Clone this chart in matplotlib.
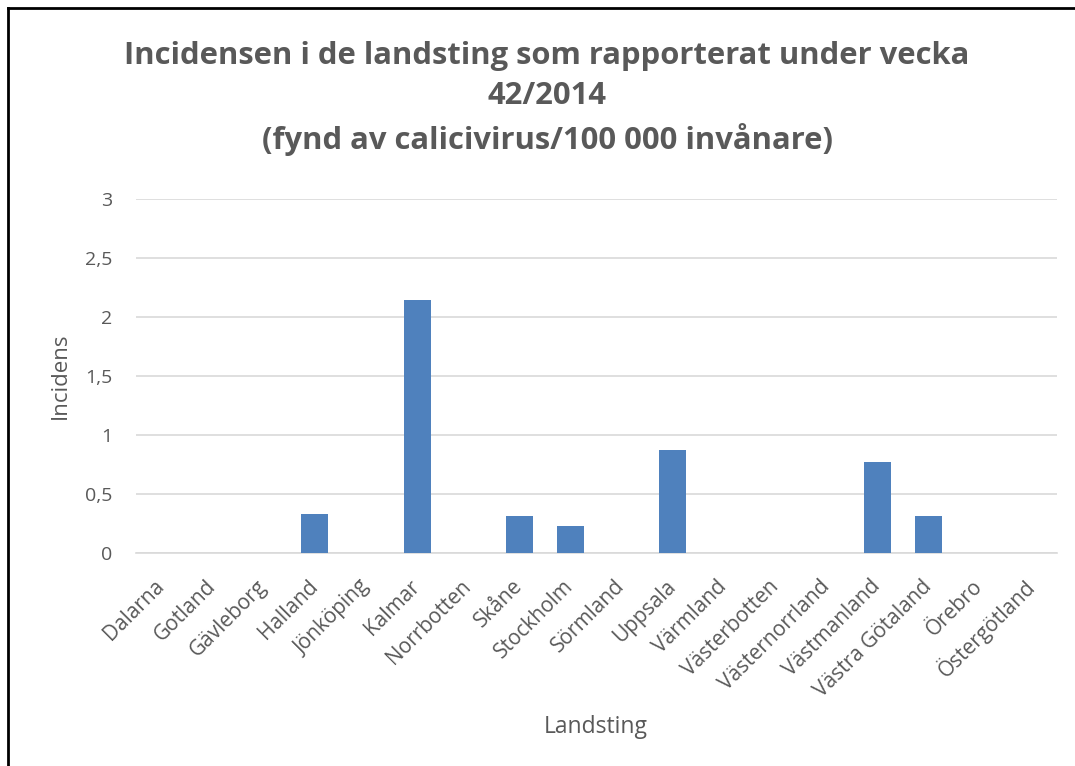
import matplotlib.pyplot as plt
from matplotlib.lines import Line2D

# Data
landsting = ['Dalarna', 'Gotland', 'Gävleborg', 'Halland', 'Jönköping', 'Kalmar',
             'Norrbotten', 'Skåne', 'Stockholm', 'Sörmland', 'Uppsala', 'Värmland',
             'Västerbotten', 'Västernorrland', 'Västmanland', 'Västra Götaland',
             'Örebro', 'Östergötland']
incidens = [0, 0, 0, 0.325, 0, 2.14, 0, 0.311, 0.229, 0, 0.868, 0, 0, 0, 0.771, 0.308, 0, 0]
y_ticks = [0, 0.5, 1, 1.5, 2, 2.5, 3]
y_ticklabels = ['0', '0,5', '1', '1,5', '2', '2,5', '3']

plt.rcParams['font.family'] = ['Open Sans', 'DejaVu Sans']
grey = '#595959'

fig = plt.figure(figsize=(10.75, 7.66), dpi=100)
ax = fig.add_axes([0.1262, 0.2785, 0.8567, 0.4621])

x = range(len(landsting))
ax.bar(x, incidens, width=0.53, color='#4F81BD', zorder=3)

ax.set_xlim(-0.5, len(landsting) - 0.5)
ax.set_ylim(0, 3)
ax.set_yticks(y_ticks)
ax.set_yticklabels(y_ticklabels, fontsize=14, color=grey)
ax.set_xticks(list(x))
ax.set_xticklabels(landsting, rotation=45, ha='right', va='center',
                   rotation_mode='anchor', fontsize=15, color=grey)
ax.tick_params(axis='both', length=0)
ax.tick_params(axis='y', pad=17)
ax.tick_params(axis='x', pad=22)

ax.grid(axis='y', color='#D9D9D9', linewidth=1.2, zorder=0)
for s in ['top', 'right', 'left']:
    ax.spines[s].set_visible(False)
ax.spines['bottom'].set_color('#D9D9D9')
ax.spines['bottom'].set_linewidth(1.2)

fig.text(0.509, 0.872, 'Incidensen i de landsting som rapporterat under vecka\n42/2014\n(fynd av calicivirus/100 000 invånare)',
         ha='center', va='center', fontsize=22.3, fontweight='bold', color=grey, linespacing=1.45)
fig.text(0.056, 0.51, 'Incidens', rotation=90, ha='center', va='center', fontsize=16, color=grey)
fig.text(0.5545, 0.051, 'Landsting', ha='center', va='center', fontsize=16.5, color=grey)

# chart border
fig.add_artist(Line2D([0.0075, 0.0075], [0, 0.9895], color='black', linewidth=2, transform=fig.transFigure))
fig.add_artist(Line2D([0.0075, 1], [0.9895, 0.9895], color='black', linewidth=2, transform=fig.transFigure))

plt.savefig('out.png', dpi=100)
